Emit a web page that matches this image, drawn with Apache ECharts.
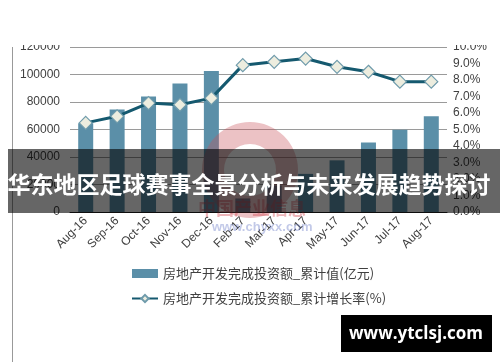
<!DOCTYPE html>
<html lang="zh">
<head>
    <meta charset="utf-8">
    <script src="https://cdn.jsdelivr.net/npm/echarts@6/dist/echarts.min.js"></script>
    <style>
        html, body {
            margin: 0px;
            padding: 0px;
            background: #fff;
        }
        #chart {
            width: 500px;
            height: 362px;
        }
    </style>
</head>
<body>
<div id="chart"></div>
<script type="text/javascript">
    // 月份
    var months = ['Aug-16', 'Sep-16', 'Oct-16', 'Nov-16', 'Dec-16', 'Feb-17',
        'Mar-17', 'Apr-17', 'May-17', 'Jun-17', 'Jul-17', 'Aug-17'];
    // 累计值(亿元)
    var investValues = [64494, 74598, 83975, 93387, 102581, 9854,
        19292, 27732, 37580, 50610, 59761, 69694];
    // 累计增长率(%)
    var growthRates = [5.4, 5.8, 6.6, 6.5, 6.9, 8.9, 9.1, 9.3, 8.8, 8.5, 7.9, 7.9];

    var barName = '房地产开发完成投资额_累计值(亿元)';
    var lineName = '房地产开发完成投资额_累计增长率(%)';

    var myChart = echarts.init(document.getElementById('chart'), null, {renderer: 'canvas'});

    var labelFont = 'Arial, "Liberation Sans", "Noto Sans CJK SC", sans-serif';

    var option = {
        backgroundColor: '#fff',
        animation: false,
        grid: {
            left: 70,
            right: 53,
            top: 47,
            bottom: 150
        },
        legend: {
            orient: 'vertical',
            left: 126,
            top: 262,
            itemGap: 12,
            itemWidth: 26,
            itemHeight: 9,
            textStyle: {
                color: '#404040',
                fontSize: 13,
                fontFamily: '"Noto Sans CJK SC", sans-serif'
            },
            data: [
                {name: barName, icon: 'rect'},
                {name: lineName}
            ]
        },
        xAxis: {
            type: 'category',
            data: months,
            axisLine: {lineStyle: {color: '#222', width: 1}},
            axisTick: {show: false},
            axisLabel: {
                rotate: 45,
                color: '#404040',
                fontSize: 12,
                fontFamily: labelFont,
                margin: 7
            }
        },
        yAxis: [
            {
                type: 'value',
                min: 0,
                max: 120000,
                interval: 20000,
                axisLine: {show: false},
                axisTick: {show: false},
                axisLabel: {
                    color: '#404040',
                    fontSize: 12,
                    fontFamily: labelFont,
                    margin: 10,
                    formatter: function (v) {
                        return String(v);
                    }
                },
                splitLine: {lineStyle: {color: '#9a9a9a', width: 1}}
            },
            {
                type: 'value',
                min: 0,
                max: 10,
                interval: 1,
                axisLine: {show: false},
                axisTick: {show: false},
                splitLine: {show: false},
                axisLabel: {
                    color: '#404040',
                    fontSize: 12,
                    fontFamily: labelFont,
                    margin: 6,
                    formatter: function (v) {
                        return v.toFixed(1) + '%';
                    }
                }
            }
        ],
        series: [
            {
                name: barName,
                type: 'bar',
                barWidth: 15,
                itemStyle: {color: '#5b8fa8'},
                data: investValues
            },
            {
                name: lineName,
                type: 'line',
                yAxisIndex: 1,
                symbol: 'diamond',
                symbolSize: 13,
                lineStyle: {color: '#15596f', width: 3},
                itemStyle: {
                    color: '#ededdf',
                    borderColor: '#6f9bab',
                    borderWidth: 1.2
                },
                data: growthRates
            }
        ],
        graphic: [
            // 顶部白色遮挡
            {
                type: 'rect', z: 100,
                shape: {x: 0, y: 0, width: 500, height: 45},
                style: {fill: '#fff'}
            },
            // 左侧竖线
            {
                type: 'line', z: 100,
                shape: {x1: 12.5, y1: 47, x2: 12.5, y2: 362},
                style: {stroke: '#999', lineWidth: 1}
            },
            // 水印圆环
            {
                type: 'ring', z: 50,
                shape: {cx: 250, cy: 170, r: 48, r0: 26},
                style: {fill: 'rgba(200, 80, 90, 0.35)'}
            },
            {
                type: 'text', z: 50,
                left: 198, top: 199,
                style: {
                    text: '中国产业信息',
                    fill: 'rgba(210, 70, 80, 0.4)',
                    font: 'bold 18px "Noto Sans CJK SC", sans-serif'
                }
            },
            {
                type: 'text', z: 50,
                left: 212, top: 221,
                style: {
                    text: 'www.chyxx.com',
                    fill: 'rgba(80, 100, 190, 0.35)',
                    font: 'bold 13px Arial, sans-serif'
                }
            },
            // 标题横幅
            {
                type: 'rect', z: 100,
                shape: {x: 8, y: 149, width: 492, height: 64},
                style: {fill: 'rgba(0, 0, 0, 0.6)'}
            },
            {
                type: 'text', z: 101,
                x: 249, y: 184,
                style: {
                    text: '华东地区足球赛事全景分析与未来发展趋势探讨',
                    fill: '#fff',
                    align: 'center',
                    verticalAlign: 'middle',
                    font: 'bold 23px "Noto Sans CJK SC", sans-serif'
                }
            },
            // 网址水印
            {
                type: 'rect', z: 100,
                shape: {x: 341, y: 315, width: 151, height: 37},
                style: {fill: '#000'}
            },
            {
                type: 'text', z: 101,
                x: 416, y: 334,
                style: {
                    text: 'www.ytclsj.com',
                    fill: '#fff',
                    align: 'center',
                    verticalAlign: 'middle',
                    font: 'bold 17px "Open Sans", "DejaVu Sans", sans-serif'
                }
            }
        ]
    };

    myChart.setOption(option);
</script>
</body>
</html>
